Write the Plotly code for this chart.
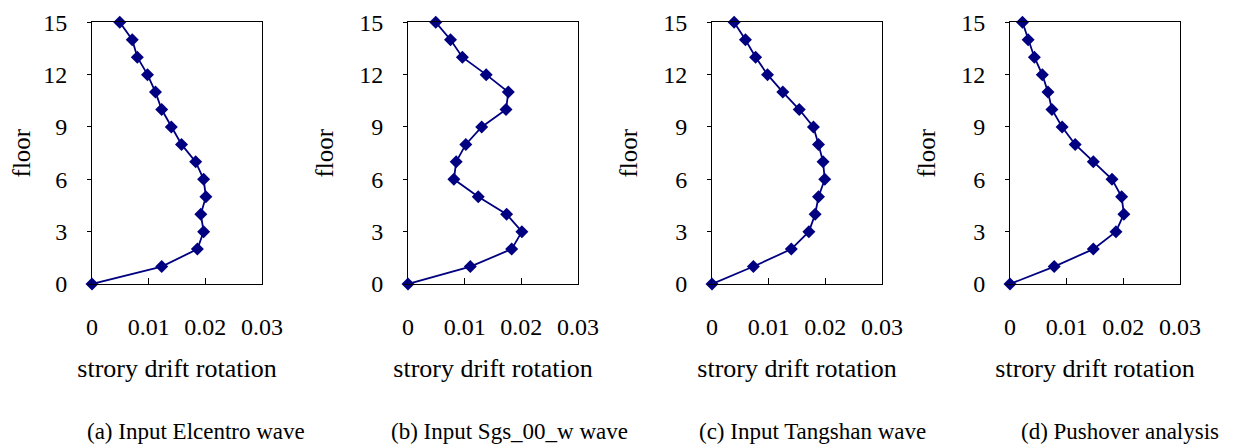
import plotly.graph_objects as go

floors = list(range(16))

drift_elcentro = [0, 0.0123, 0.0186, 0.0197, 0.0192, 0.0201, 0.0197, 0.0183,
                  0.0158, 0.0140, 0.0123, 0.0112, 0.0098, 0.0080, 0.0071, 0.0049]
drift_sgs = [0, 0.0110, 0.0183, 0.0201, 0.0174, 0.0124, 0.0081, 0.0085,
             0.0102, 0.0130, 0.0173, 0.0177, 0.0138, 0.0096, 0.0075, 0.0049]
drift_tangshan = [0, 0.0073, 0.0140, 0.0171, 0.0182, 0.0188, 0.0199, 0.0196,
                  0.0188, 0.0179, 0.0154, 0.0125, 0.0098, 0.0077, 0.0059, 0.0039]
drift_pushover = [0, 0.0078, 0.0147, 0.0187, 0.0201, 0.0197, 0.0180, 0.0147,
                  0.0115, 0.0092, 0.0074, 0.0067, 0.0057, 0.0043, 0.0032, 0.0022]

series = [drift_elcentro, drift_sgs, drift_tangshan, drift_pushover]
captions = ["(a) Input Elcentro wave", "(b) Input Sgs_00_w wave",
            "(c) Input Tangshan wave", "(d) Pushover analysis"]
x_ticks = [0, 0.01, 0.02, 0.03]
x_tick_text = ["0", "0.01", "0.02", "0.03"]
y_ticks = [0, 3, 6, 9, 12, 15]

# page body has an 8px default margin; figure is sized/positioned to compensate
OFF = 8
W, H = 1237 - OFF, 448 - OFF
left_px = [92, 408, 712, 1010]
right_px = [262, 578, 882, 1180]
top_px, bottom_px = 22.3, 284
caption_left_px = [85, 389, 697, 1019]
caption_y_px = 431


def px_x(v):
    return (v - OFF) / W


def px_y(v):
    return (H - (v - OFF)) / H


FONT = "Liberation Serif"
navy = "#000080"

fig = go.Figure()
layout = dict(
    template="none",
    width=W, height=H,
    margin=dict(l=0, r=0, t=0, b=0, pad=0),
    paper_bgcolor="white", plot_bgcolor="white",
    showlegend=False,
    font=dict(family=FONT, color="black", size=23),
)

annotations = []
for i, ys in enumerate(series):
    n = "" if i == 0 else str(i + 1)
    xa, ya = "x" + n, "y" + n
    fig.add_trace(go.Scatter(
        x=ys, y=floors, mode="lines+markers",
        line=dict(color=navy, width=1.8),
        marker=dict(symbol="diamond", size=10, color=navy, line=dict(width=0)),
        xaxis=xa, yaxis=ya, cliponaxis=False,
    ))
    layout["xaxis" + n] = dict(
        domain=[px_x(left_px[i]), px_x(right_px[i])],
        anchor=ya, range=[0, 0.03], automargin=False,
        tickvals=x_ticks, ticktext=x_tick_text,
        ticks="inside", ticklen=6, tickcolor="black", tickwidth=1,
        showline=True, linecolor="black", linewidth=1, mirror=True,
        showgrid=False, zeroline=False,
        ticklabelstandoff=21,
        tickfont=dict(size=24, family=FONT, color="black"),
        title=dict(text="strory drift rotation", font=dict(size=26, family=FONT, color="black"), standoff=20),
    )
    layout["yaxis" + n] = dict(
        domain=[px_y(bottom_px), px_y(top_px)],
        anchor=xa, range=[0, 15], automargin=False,
        tickvals=y_ticks,
        ticks="outside", ticklen=4, tickcolor="black", tickwidth=1,
        showline=True, linecolor="black", linewidth=1, mirror=True,
        showgrid=False, zeroline=False,
        ticklabelstandoff=15,
        tickfont=dict(size=24, family=FONT, color="black"),
        title=dict(text="floor", font=dict(size=25, family=FONT, color="black"), standoff=18),
    )
    annotations.append(dict(
        text=captions[i], x=px_x(caption_left_px[i]), y=px_y(caption_y_px),
        xref="paper", yref="paper", xanchor="left", yanchor="middle",
        showarrow=False, font=dict(size=23, family=FONT, color="black"),
    ))

layout["annotations"] = annotations
fig.update_layout(**layout)
fig.write_html("out.html")
